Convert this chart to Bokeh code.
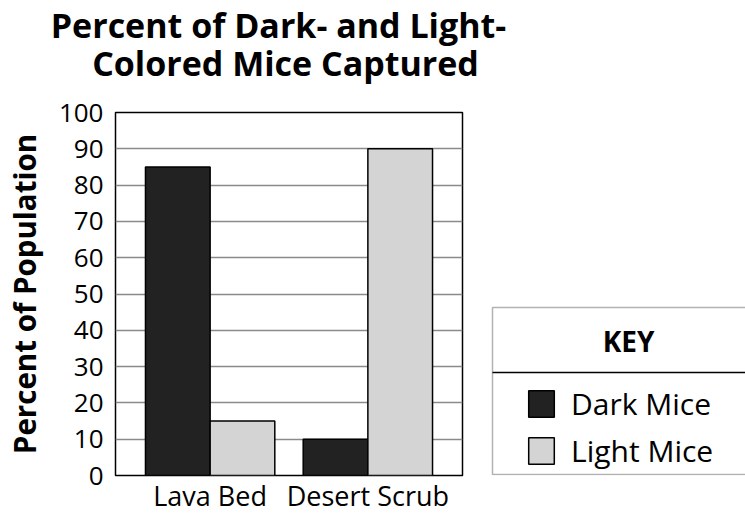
import numpy as np
from bokeh.plotting import figure
from bokeh.layouts import row, column
from bokeh.models import (ColumnDataSource, FactorRange, Range1d, FixedTicker,
                          Legend, LegendItem, BoxAnnotation, Label)
from bokeh.transform import dodge
from bokeh.embed import file_html
from bokeh.resources import INLINE

# ---- data ----
categories = ["Lava Bed", "Desert Scrub"]
dark_mice = [85, 10]
light_mice = [15, 90]
series_names = ["Dark Mice", "Light Mice"]
y_ticks = [0, 10, 20, 30, 40, 50, 60, 70, 80, 90, 100]
title_lines = ["Percent of Dark- and Light-", "Colored Mice Captured"]
y_label = "Percent of Population"
key_title = "KEY"

FONT = "Open Sans"
DARK = "#222222"
LIGHT = "#d4d4d4"

# ---------------- title strip (pixel-mapped ranges) ----------------
t = figure(width=745, height=90, x_range=Range1d(0, 745), y_range=Range1d(0, 90),
           min_border_left=0, min_border_right=0, min_border_top=0, min_border_bottom=0,
           x_axis_location=None, y_axis_location=None,
           output_backend="svg", toolbar_location=None)
t.grid.visible = False
t.outline_line_color = None
t.background_fill_color = "white"
t.border_fill_color = "white"
for txt, cx, by in ((title_lines[0], 278, 66), (title_lines[1], 285, 28)):
    t.add_layout(Label(x=cx, y=by, text=txt, text_align="center",
                       text_baseline="alphabetic", text_font=FONT,
                       text_font_size="34px", text_font_style="bold",
                       text_color="black"))

# ---------------- main chart ----------------
src = ColumnDataSource(dict(cat=categories, dark=dark_mice, light=light_mice))

p = figure(
    x_range=FactorRange(factors=categories, range_padding=0.1,
                        range_padding_units="absolute", factor_padding=0),
    y_range=Range1d(0, 100),
    width=490, height=426,
    min_border_left=115, min_border_right=28,
    min_border_top=22, min_border_bottom=41,
    output_backend="svg", toolbar_location=None,
)
p.background_fill_color = "white"
p.border_fill_color = "white"
p.outline_line_color = "black"
p.outline_line_width = 1.5
p.outline_line_alpha = 1.0

bw = 0.41
r_dark = p.vbar(x=dodge("cat", -bw / 2, range=p.x_range), top="dark", width=bw,
                source=src, fill_color=DARK, line_color="black", line_width=1.5)
r_light = p.vbar(x=dodge("cat", bw / 2, range=p.x_range), top="light", width=bw,
                 source=src, fill_color=LIGHT, line_color="black", line_width=1.5)

ticker = FixedTicker(ticks=y_ticks)
p.yaxis.ticker = ticker
p.ygrid.ticker = ticker
p.xgrid.visible = False
p.ygrid.grid_line_color = "#8a8a8a"
p.ygrid.grid_line_width = 1.5

for ax in (p.xaxis, p.yaxis):
    ax.axis_line_color = None
    ax.major_tick_line_color = None
    ax.minor_tick_line_color = None
    ax.major_tick_out = 0
    ax.major_tick_in = 0
    ax.major_label_text_font = FONT
    ax.major_label_text_color = "black"

p.yaxis.major_label_text_font_size = "26px"
p.xaxis.major_label_text_font_size = "27px"
p.yaxis.major_label_standoff = 12
p.xaxis.major_label_standoff = 1
p.yaxis.axis_label = y_label
p.yaxis.axis_label_text_font = FONT
p.yaxis.axis_label_text_font_size = "29.5px"
p.yaxis.axis_label_text_font_style = "bold"
p.yaxis.axis_label_text_color = "black"
p.yaxis.axis_label_standoff = 11

# ---------------- key panel (pixel-mapped ranges, frame aligned with chart) ----------------
k = figure(width=255, height=426, x_range=Range1d(0, 255), y_range=Range1d(0, 363),
           min_border_left=0, min_border_right=0, min_border_top=22, min_border_bottom=41,
           x_axis_location=None, y_axis_location=None,
           output_backend="svg", toolbar_location=None)
k.grid.visible = False
k.outline_line_color = None
k.background_fill_color = "white"
k.border_fill_color = "white"

nan = np.array([np.nan])
k_dark = k.vbar(x=nan, top=nan, width=1, fill_color=DARK, line_color="black", line_width=1.5)
k_light = k.vbar(x=nan, top=nan, width=1, fill_color=LIGHT, line_color="black", line_width=1.5)

k.add_layout(BoxAnnotation(left=2, right=320, top=168, bottom=1,
                           fill_alpha=0, line_color="black", line_width=1.5))
k.add_layout(BoxAnnotation(left=2, right=320, top=103.75, bottom=102.25,
                           fill_color="black", fill_alpha=1, line_color=None))
k.add_layout(Label(x=138, y=135, text=key_title, text_align="center",
                   text_baseline="middle", text_font=FONT, text_font_style="bold",
                   text_font_size="28px", text_color="black"))

legend = Legend(items=[LegendItem(label=series_names[0], renderers=[k_dark]),
                       LegendItem(label=series_names[1], renderers=[k_light])],
                location=(35, 4), orientation="vertical",
                glyph_width=32, glyph_height=33, label_height=33, spacing=6,
                label_standoff=14, padding=0, margin=0,
                border_line_color=None, background_fill_alpha=0,
                label_text_font=FONT, label_text_font_size="30px",
                label_text_color="black")
k.add_layout(legend)

layout = column(t, row(p, k))
open("out.html", "w").write(file_html(layout, INLINE))
